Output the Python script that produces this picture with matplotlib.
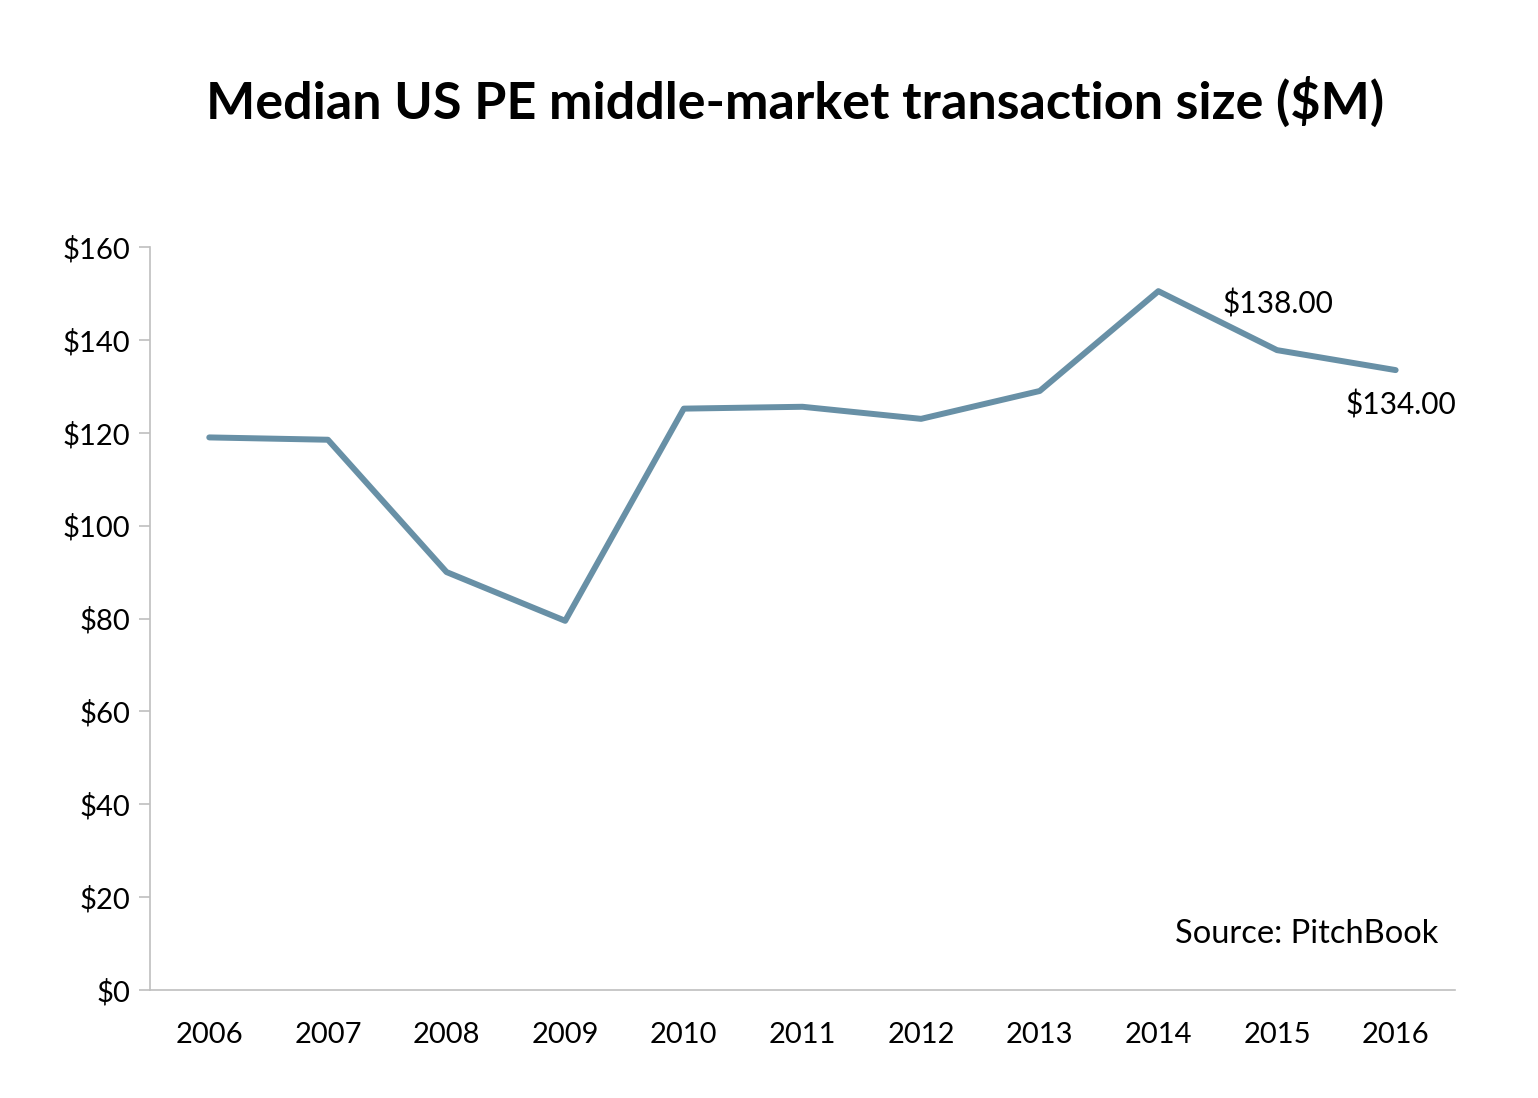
import matplotlib.pyplot as plt
import numpy as np

years = ['2006', '2007', '2008', '2009', '2010', '2011', '2012', '2013', '2014', '2015', '2016']
deal_size = [119, 118.5, 90, 79.5, 125.2, 125.6, 123, 129, 150.5, 137.8, 133.5]
y_ticks = [0, 20, 40, 60, 80, 100, 120, 140, 160]
labels = {9: '$138.00', 10: '$134.00'}

plt.rcParams['font.family'] = ['Lato', 'DejaVu Sans']

fig = plt.figure(figsize=(15.38, 10.98), dpi=100)
ax = fig.add_axes([0.0975, 0.0984, 0.8485, 0.6766])

x = np.arange(len(years))
ax.plot(x, deal_size, color='#6890A6', linewidth=4.3, solid_capstyle='round')

ax.set_xlim(-0.5, len(years) - 0.5)
ax.set_ylim(0, 160)
ax.set_yticks(y_ticks)
ax.set_yticklabels(['$' + str(v) for v in y_ticks])
ax.set_xticks(x)
ax.set_xticklabels(years)

for side in ['top', 'right']:
    ax.spines[side].set_visible(False)
for side in ['left', 'bottom']:
    ax.spines[side].set_color('#BFBFBF')
    ax.spines[side].set_linewidth(1.2)
ax.tick_params(axis='y', length=8, width=1.2, color='#BFBFBF', labelsize=21, pad=6)
ax.tick_params(axis='x', length=0, labelsize=21, pad=23)

ax.annotate(labels[9], (x[9], deal_size[9]), xytext=(-39, 33), textcoords='offset points',
            fontsize=21.5, ha='left', va='center')
ax.annotate(labels[10], (x[10], deal_size[10]), xytext=(-36, -25), textcoords='offset points',
            fontsize=21.5, ha='left', va='center')

ax.text(0.987, 0.075, 'Source: PitchBook', transform=ax.transAxes, fontsize=23.5,
        ha='right', va='center')

fig.text(0.517, 0.907, 'Median US PE middle-market transaction size ($M)',
         fontsize=37.5, fontweight='bold', ha='center', va='center')

fig.savefig('out.png', dpi=100)
